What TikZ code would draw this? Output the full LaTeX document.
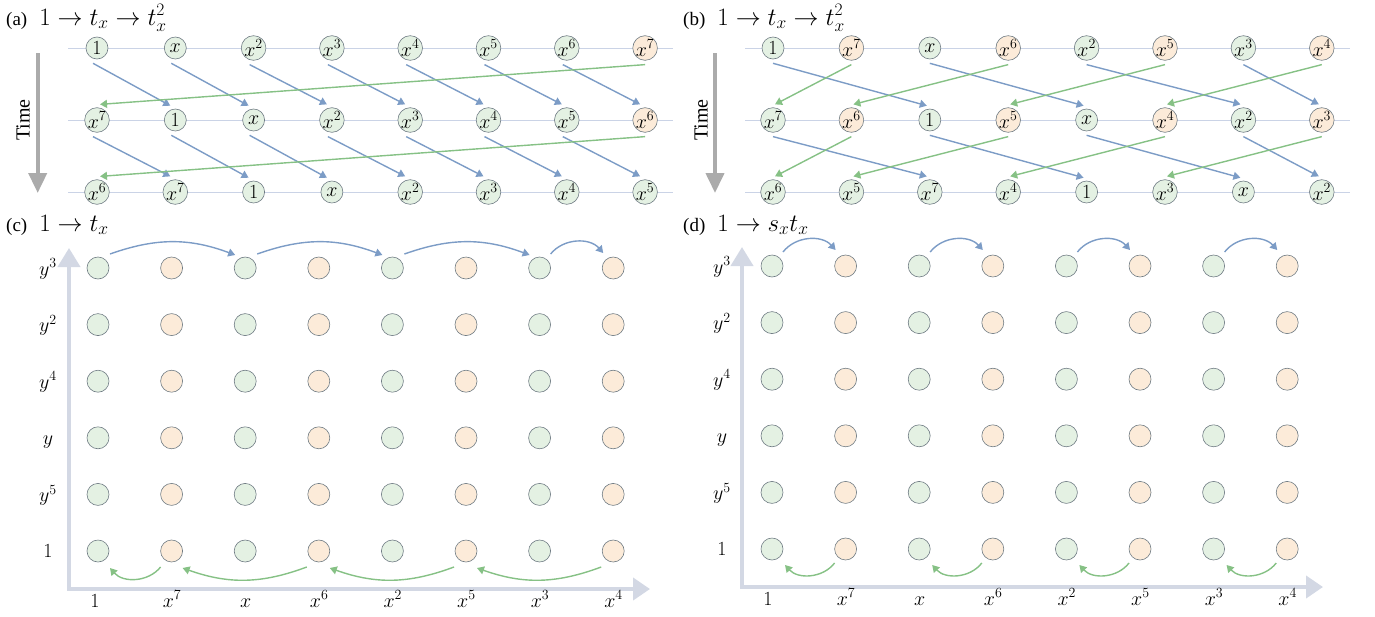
\RequirePackage{fix-cm}
\documentclass[tikz,border=0pt]{standalone}
\usepackage{fontspec}
\newfontfamily\tnr{Liberation Serif}
\usetikzlibrary{arrows.meta}
\definecolor{ngreen}{HTML}{E4F1E3}
\definecolor{norange}{HTML}{FCEBD9}
\definecolor{nborder}{HTML}{6F7B83}
\definecolor{rowcol}{HTML}{CAD3E6}
\definecolor{bluearr}{HTML}{7C9CC6}
\definecolor{greenarr}{HTML}{86C185}
\definecolor{timecol}{HTML}{ABABAB}
\definecolor{axiscol}{HTML}{D3D8E4}
\begin{document}
\begin{tikzpicture}[x=1pt,y=-1pt,
  nd/.style={circle,draw=nborder,line width=0.6pt,minimum size=22pt,inner sep=0pt,font=\fontsize{20}{20}\selectfont},
  gnode/.style={nd,fill=ngreen},
  onode/.style={nd,fill=norange},
  barr/.style={draw=bluearr,line width=1.4pt,-{Triangle[width=8pt,length=7pt]}},
  garr/.style={draw=greenarr,line width=1.4pt,-{Triangle[width=8pt,length=7pt]}},
  rowline/.style={draw=rowcol,line width=1pt},
  timearr/.style={draw=timecol,line width=4pt,-{Triangle[width=18pt,length=20pt]}},
  axisline/.style={draw=axiscol,line width=4pt,{Triangle[width=22pt,length=19pt]}-{Triangle[width=22pt,length=17pt]}},
  lab/.style={font=\fontsize{20}{20}\selectfont,inner sep=0pt},
  ttl/.style={anchor=base west,inner sep=0pt}]
\useasboundingbox (0,0) rectangle (1375,616);

% ---------- titles ----------
\node[ttl] (ta) at (6,25) {\tnr\fontsize{19}{19}\selectfont (a)\hspace{12pt}\fontsize{25}{25}\selectfont$1\to t_x\to t_x^2$};
\node[ttl] (tb) at (683,25) {\tnr\fontsize{19}{19}\selectfont (b)\hspace{12pt}\fontsize{25}{25}\selectfont$1\to t_x\to t_x^2$};
\node[ttl] (tc) at (6,231) {\tnr\fontsize{19}{19}\selectfont (c)\hspace{12pt}\fontsize{25}{25}\selectfont$1\to t_x$};
\node[ttl] (td) at (683,231) {\tnr\fontsize{19}{19}\selectfont (d)\hspace{12pt}\fontsize{25}{25}\selectfont$1\to s_xt_x$};

% ---------- row lines and time arrows ----------
\foreach \yy in {48,120,192} {\draw[rowline] (68,\yy) -- (673,\yy);}
\draw[rowline] (745,48) -- (1350,48);
\draw[rowline] (745,120) -- (1350,120);
\draw[rowline] (745,192) -- (1350,192);

\draw[timearr] (37.7,53) -- (37.7,193);
\node[rotate=90,font=\tnr\fontsize{20}{20}\selectfont,inner sep=0pt] (timea) at (23,120) {Time};
\draw[timearr] (715,53) -- (715,193);
\node[rotate=90,font=\tnr\fontsize{20}{20}\selectfont,inner sep=0pt] (timeb) at (701,120) {Time};

% ---------- panel (a) ----------
\foreach \lab/\st [count=\i from 0] in {1/gnode,x/gnode,x^2/gnode,x^3/gnode,x^4/gnode,x^5/gnode,x^6/gnode,x^7/onode}
  {\node[\st] (a0-\i) at ({97+78.3*\i},48) {$\lab$};}
\foreach \lab/\st [count=\i from 0] in {x^7/gnode,1/gnode,x/gnode,x^2/gnode,x^3/gnode,x^4/gnode,x^5/gnode,x^6/onode}
  {\node[\st] (a1-\i) at ({97+78.3*\i},120) {$\lab$};}
\foreach \lab/\st [count=\i from 0] in {x^6/gnode,x^7/gnode,1/gnode,x/gnode,x^2/gnode,x^3/gnode,x^4/gnode,x^5/gnode}
  {\node[\st] (a2-\i) at ({97+78.3*\i},192) {$\lab$};}

\foreach \i in {0,...,6} {
  \pgfmathtruncatemacro\j{\i+1}
  \draw[barr] ([xshift=-4pt,yshift=-4pt]a0-\i.south) -- ([xshift=-5pt,yshift=3pt]a1-\j.north);
  \draw[barr] ([xshift=-4pt,yshift=-4pt]a1-\i.south) -- ([xshift=-5pt,yshift=3pt]a2-\j.north);
}
\draw[garr] ([yshift=-4pt]a0-7.south) -- ([xshift=3pt,yshift=3pt]a1-0.north);
\draw[garr] ([yshift=-4pt]a1-7.south) -- ([xshift=3pt,yshift=3pt]a2-0.north);

% ---------- panel (b) ----------
\foreach \lab/\st [count=\i from 0] in {1/gnode,x^7/onode,x/gnode,x^6/onode,x^2/gnode,x^5/onode,x^3/gnode,x^4/onode}
  {\node[\st] (b0-\i) at ({773+78.4*\i},48) {$\lab$};}
\foreach \lab/\st [count=\i from 0] in {x^7/gnode,x^6/onode,1/gnode,x^5/onode,x/gnode,x^4/onode,x^2/gnode,x^3/onode}
  {\node[\st] (b1-\i) at ({773+78.4*\i},120) {$\lab$};}
\foreach \lab/\st [count=\i from 0] in {x^6/gnode,x^5/gnode,x^7/gnode,x^4/gnode,1/gnode,x^3/gnode,x/gnode,x^2/gnode}
  {\node[\st] (b2-\i) at ({773+78.4*\i},192) {$\lab$};}

\foreach \r/\s in {0/1,1/2} {
  \foreach \p/\q in {0/2,2/4,4/6,6/7}
    {\draw[barr] ([yshift=-4pt]b\r-\p.south) -- ([xshift=-3pt,yshift=3pt]b\s-\q.north);}
  \foreach \p/\q in {1/0,3/1,5/3,7/5}
    {\draw[garr] ([yshift=-4pt]b\r-\p.south) -- ([xshift=2pt,yshift=3pt]b\s-\q.north);}
}

% ---------- panel (c) ----------
\coordinate (cyt) at (69,248);
\coordinate (cor) at (69,589);
\coordinate (cxt) at (650,589);
\draw[axisline] (cyt) -- (cor) -- (cxt);
\foreach \lab [count=\r from 0] in {y^3,y^2,y^4,y,y^5} {
  \node[lab,anchor=base] (cyl\r) at (48,{268+56.6*\r+7}) {$\lab$};
}
\node[lab,anchor=base] (cyl5) at (48,557) {$1$};
\foreach \lab [count=\k from 0] in {x^7,x,x^6,x^2,x^5,x^3,x^4} {
  \node[lab,anchor=base] (cxl\k) at ({172+73.6*\k},607) {$\lab$};
}
\node[lab,anchor=base] (cxone) at (95,607) {$1$};
\foreach \r in {0,...,5} {
  \foreach \k in {0,2,4,6} {\node[gnode] (c\r-\k) at ({98+73.6*\k},{268+56.6*\r}) {};}
  \foreach \k in {1,3,5,7} {\node[onode] (c\r-\k) at ({98+73.6*\k},{268+56.6*\r}) {};}
}
\foreach \p/\q in {0/2,2/4,4/6}
  {\draw[barr] ([shift={(4pt,6pt)}]c0-\p.north east) to[bend left=20] ([shift={(-2pt,5pt)}]c0-\q.north west);}
\draw[barr] ([shift={(3pt,6pt)}]c0-6.north east) to[bend left=50] ([shift={(-2pt,7pt)}]c0-7.north west);
\draw[garr] ([shift={(-3pt,-8pt)}]c5-1.south west) to[bend left=50] ([shift={(4pt,-9pt)}]c5-0.south east);
\foreach \p/\q in {3/1,5/3,7/5}
  {\draw[garr] ([shift={(-4pt,-8pt)}]c5-\p.south west) to[bend left=20] ([shift={(3pt,-9pt)}]c5-\q.south east);}

% ---------- panel (d) ----------
\coordinate (dyt) at (742,247);
\coordinate (dor) at (742,587);
\coordinate (dxt) at (1323,587);
\draw[axisline] (dyt) -- (dor) -- (dxt);
\foreach \lab [count=\r from 0] in {y^3,y^2,y^4,y,y^5} {
  \node[lab,anchor=base] (dyl\r) at (722,{266+56.6*\r+7}) {$\lab$};
}
\node[lab,anchor=base] (dyl5) at (722,555) {$1$};
\foreach \lab [count=\k from 0] in {x^7,x,x^6,x^2,x^5,x^3,x^4} {
  \node[lab,anchor=base] (dxl\k) at ({846+73.6*\k},605) {$\lab$};
}
\node[lab,anchor=base] (dxone) at (768,605) {$1$};
\foreach \r in {0,...,5} {
  \foreach \k in {0,2,4,6} {\node[gnode] (d\r-\k) at ({772+73.6*\k},{266+56.6*\r}) {};}
  \foreach \k in {1,3,5,7} {\node[onode] (d\r-\k) at ({772+73.6*\k},{266+56.6*\r}) {};}
}
\foreach \p/\q in {0/1,2/3,4/5,6/7}
  {\draw[barr] ([shift={(3pt,6pt)}]d0-\p.north east) to[bend left=50] ([shift={(-2pt,8pt)}]d0-\q.north west);}
\foreach \p/\q in {1/0,3/2,5/4,7/6}
  {\draw[garr] ([shift={(-3pt,-6pt)}]d5-\p.south west) to[bend left=50] ([shift={(5pt,-8pt)}]d5-\q.south east);}
\end{tikzpicture}
\end{document}
